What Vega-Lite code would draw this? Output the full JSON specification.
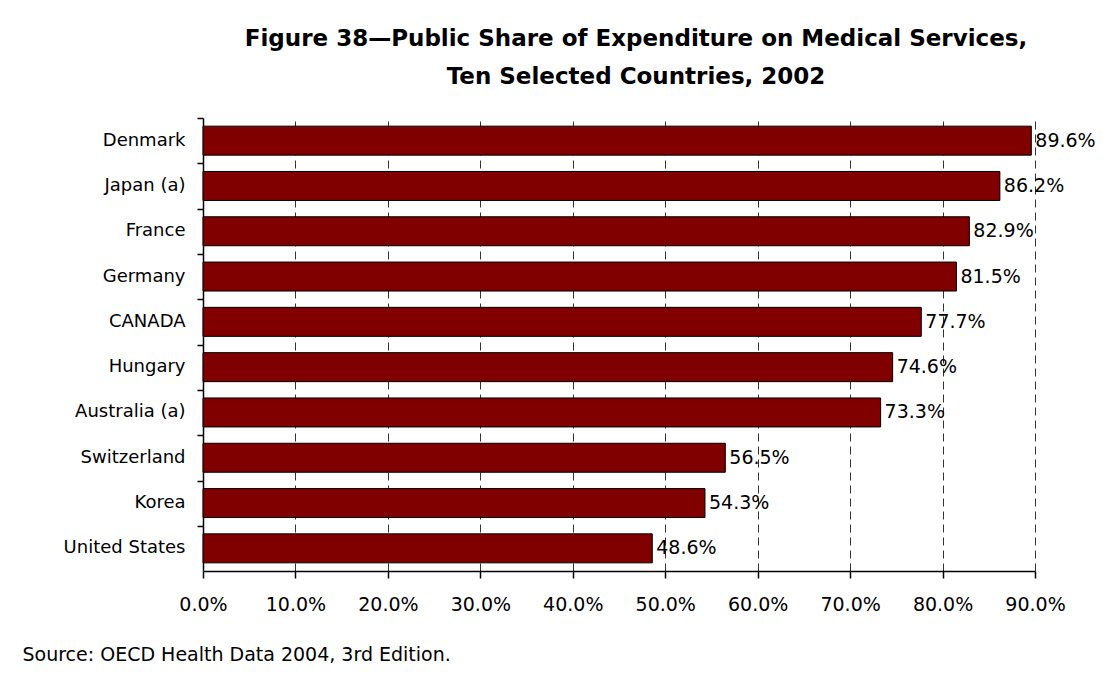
{
  "$schema": "https://vega.github.io/schema/vega-lite/v6.json",
  "autosize": {"type": "none"},
  "padding": {"left": 203, "top": 118, "right": 78, "bottom": 104},
  "width": 832,
  "height": 453,
  "background": "white",
  "title": {
    "text": ["Figure 38\u2014Public Share of Expenditure on Medical Services,", "Ten Selected Countries, 2002"],
    "font": "DejaVu Sans",
    "fontSize": 23,
    "fontWeight": "bold",
    "color": "black",
    "lineHeight": 38,
    "anchor": "middle",
    "dx": 17,
    "offset": 28
  },
  "data": {
    "values": [
      {"country": "Denmark", "share": 0.896},
      {"country": "Japan (a)", "share": 0.862},
      {"country": "France", "share": 0.829},
      {"country": "Germany", "share": 0.815},
      {"country": "CANADA", "share": 0.777},
      {"country": "Hungary", "share": 0.746},
      {"country": "Australia (a)", "share": 0.733},
      {"country": "Switzerland", "share": 0.565},
      {"country": "Korea", "share": 0.543},
      {"country": "United States", "share": 0.486}
    ]
  },
  "layer": [
    {
      "mark": {"type": "bar", "fill": "#800000", "stroke": "black", "strokeWidth": 1},
      "encoding": {
        "y": {
          "field": "country",
          "type": "nominal",
          "sort": null,
          "scale": {"paddingInner": 0.36, "paddingOuter": 0.18},
          "axis": {
            "title": null,
            "ticks": false,
            "domain": true,
            "domainColor": "black",
            "domainWidth": 1.5,
            "labelPadding": 18,
            "labelFont": "DejaVu Sans",
            "labelFontSize": 18,
            "labelColor": "black"
          }
        },
        "x": {
          "field": "share",
          "type": "quantitative",
          "scale": {"domain": [0, 0.9], "nice": false},
          "axis": {
            "values": [0, 0.1, 0.2, 0.3, 0.4, 0.5, 0.6, 0.7, 0.8, 0.9],
            "format": ".1%",
            "grid": true,
            "gridDash": [8, 5],
            "gridColor": "#333333",
            "gridWidth": 1,
            "ticks": true,
            "tickSize": 7,
            "tickColor": "black",
            "tickWidth": 1.5,
            "domain": true,
            "domainColor": "black",
            "domainWidth": 1.5,
            "labelPadding": 17,
            "labelFont": "DejaVu Sans",
            "labelFontSize": 19,
            "labelColor": "black",
            "labelFlush": false,
            "title": "Source: OECD Health Data 2004, 3rd Edition.",
            "titleFont": "DejaVu Sans",
            "titleFontSize": 19,
            "titleFontWeight": "normal",
            "titleColor": "black",
            "titleAlign": "left",
            "titleAnchor": "start",
            "titleBaseline": "middle",
            "titleX": -181,
            "titleY": 83
          }
        }
      }
    },
    {
      "mark": {"type": "text", "align": "left", "baseline": "middle", "dx": 4, "font": "DejaVu Sans", "fontSize": 19, "color": "black"},
      "encoding": {
        "text": {"field": "share", "type": "quantitative", "format": ".1%"},
        "y": {
          "field": "country",
          "type": "nominal",
          "sort": null,
          "axis": {
            "orient": "left",
            "title": null,
            "labels": false,
            "domain": false,
            "grid": false,
            "ticks": true,
            "tickSize": 6,
            "tickColor": "black",
            "tickWidth": 1.5,
            "bandPosition": 0,
            "tickOffset": -8
          }
        },
        "x": {"field": "share", "type": "quantitative"}
      }
    }
  ],
  "resolve": {"scale": {"y": "shared", "x": "shared"}, "axis": {"y": "independent"}},
  "config": {"view": {"stroke": null}}
}
